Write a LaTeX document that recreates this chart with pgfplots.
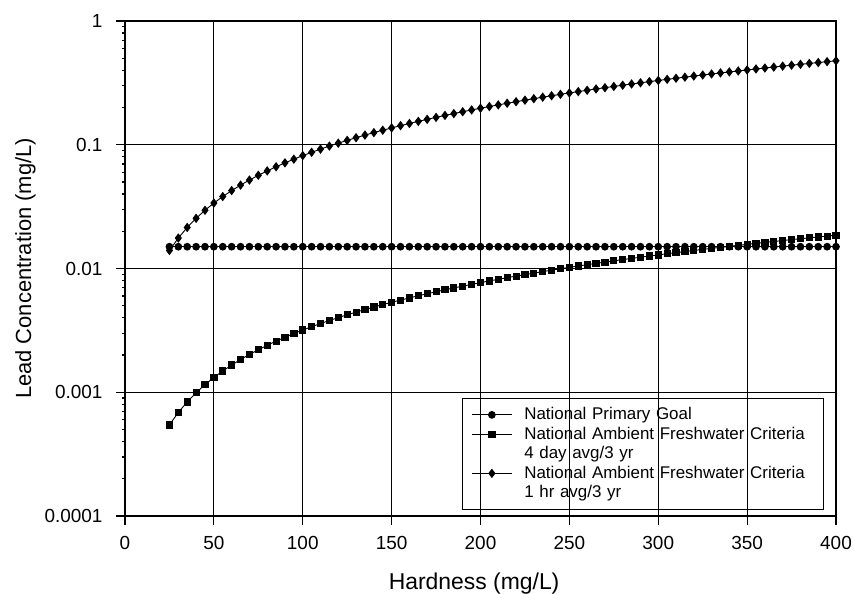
\documentclass[border=0pt]{standalone}
\usepackage{pgfplots}
\pgfplotsset{compat=1.18}
\usepackage{pgfplotstable}
\usepackage{fontspec}
\setmainfont{Liberation Sans}

\pgfplotstableread{
H ccc cmc pg
25 0.000545 0.01398 0.015
30 0.000687 0.01763 0.015
35 0.000836 0.02146 0.015
40 0.000991 0.02543 0.015
45 0.001151 0.02955 0.015
50 0.001317 0.03379 0.015
55 0.001486 0.03815 0.015
60 0.001660 0.04261 0.015
65 0.001839 0.04718 0.015
70 0.002020 0.05185 0.015
75 0.002206 0.05661 0.015
80 0.002395 0.06146 0.015
85 0.002587 0.06639 0.015
90 0.002782 0.07140 0.015
95 0.002980 0.07649 0.015
100 0.003182 0.08165 0.015
105 0.003385 0.08688 0.015
110 0.003592 0.09218 0.015
115 0.003801 0.09755 0.015
120 0.004013 0.10298 0.015
125 0.004227 0.10847 0.015
130 0.004443 0.11403 0.015
135 0.004662 0.11964 0.015
140 0.004883 0.12531 0.015
145 0.005106 0.13103 0.015
150 0.005331 0.13681 0.015
155 0.005558 0.14264 0.015
160 0.005787 0.14853 0.015
165 0.006019 0.15446 0.015
170 0.006252 0.16044 0.015
175 0.006487 0.16647 0.015
180 0.006724 0.17255 0.015
185 0.006962 0.17868 0.015
190 0.007203 0.18485 0.015
195 0.007445 0.19106 0.015
200 0.007689 0.19732 0.015
205 0.007934 0.20362 0.015
210 0.008181 0.20996 0.015
215 0.008430 0.21635 0.015
220 0.008680 0.22277 0.015
225 0.008932 0.22924 0.015
230 0.009186 0.23574 0.015
235 0.009441 0.24229 0.015
240 0.009697 0.24887 0.015
245 0.009955 0.25548 0.015
250 0.010215 0.26214 0.015
255 0.010475 0.26883 0.015
260 0.010737 0.27556 0.015
265 0.011001 0.28232 0.015
270 0.011266 0.28912 0.015
275 0.011532 0.29596 0.015
280 0.011800 0.30283 0.015
285 0.012068 0.30973 0.015
290 0.012339 0.31666 0.015
295 0.012610 0.32363 0.015
300 0.012883 0.33062 0.015
305 0.013157 0.33765 0.015
310 0.013432 0.34471 0.015
315 0.013708 0.35181 0.015
320 0.013986 0.35893 0.015
325 0.014265 0.36609 0.015
330 0.014545 0.37327 0.015
335 0.014826 0.38049 0.015
340 0.015108 0.38773 0.015
345 0.015391 0.39500 0.015
350 0.015676 0.40230 0.015
355 0.015961 0.40964 0.015
360 0.016248 0.41699 0.015
365 0.016536 0.42438 0.015
370 0.016825 0.43179 0.015
375 0.017115 0.43924 0.015
380 0.017406 0.44670 0.015
385 0.017698 0.45419 0.015
390 0.017991 0.46172 0.015
395 0.018286 0.46927 0.015
400 0.018580 0.47685 0.015
}\data

\begin{document}
\begin{tikzpicture}
\begin{semilogyaxis}[
  at={(0bp,0bp)}, anchor=south west,
  scale only axis,
  width=711bp, height=495bp,
  xmin=0, xmax=400, ymin=1e-4, ymax=1,
  xtick={0,50,...,400},
  ytick={1e-4,1e-3,1e-2,1e-1,1},
  yticklabels={0.0001,0.001,0.01,0.1,1},
  minor ytick={},
  grid=major,
  major grid style={black, line width=0.9bp},
  axis line style={black, line width=1.2bp},
  tick style={black, line width=1.2bp},
  tick align=outside,
  major tick length=9bp,
  xtick pos=bottom, ytick pos=left,
  /pgf/number format/assume math mode=true,
  tick label style={font=\fontsize{19}{22}\selectfont},
  xticklabel style={yshift=-8bp},
  yticklabel style={xshift=-10bp},
  xlabel={Hardness (mg/L)},
  ylabel={Lead Concentration (mg/L)},
  xlabel style={font=\fontsize{23}{27}\selectfont, at={(axis description cs:0.491,-0.1475)}, anchor=base},
  ylabel style={font=\fontsize{22}{26}\selectfont, at={(axis description cs:-0.1320,0.5)}, anchor=base, rotate=0},
  legend cell align=left,
  legend style={
    at={(axis description cs:0.474,0.0121)}, anchor=south west,
    draw=black, line width=0.8bp, fill=none,
    inner xsep=9bp, inner ysep=7bp,
    row sep=0bp,
    font=\fontsize{17}{19.5}\selectfont,
    nodes={inner sep=1bp, text height=13.5bp, text depth=4bp, text width=289bp, align=left},
    /tikz/every odd column/.append style={column sep=11bp},
  },
  legend image code/.code={
    \draw[#1, mark repeat=2, mark phase=2] plot coordinates {(0bp,0bp) (20bp,0bp) (40bp,0bp)};
  },
  clip=false,
]
\addplot[black, line width=0.9bp, mark=*, mark size=3.4bp, mark options={solid, fill=black}] table[x=H, y=pg] {\data};
\addlegendentry{National Primary Goal}
\addplot[black, line width=0.9bp, mark=square*, mark size=3.1bp, mark options={solid, fill=black}] table[x=H, y=ccc] {\data};
\addlegendentry{National Ambient Freshwater Criteria}
\addlegendimage{empty legend}
\addlegendentry{4 day avg/3 yr}
\addplot[black, line width=0.9bp, mark=diamond*, mark size=4bp, mark options={solid, fill=black}] table[x=H, y=cmc] {\data};
\addlegendentry{National Ambient Freshwater Criteria}
\addlegendimage{empty legend}
\addlegendentry{1 hr avg/3 yr}
\end{semilogyaxis}
\pgfresetboundingbox
\path[use as bounding box] (-125bp,-78bp) rectangle (729bp,516bp);
\end{tikzpicture}
\end{document}
